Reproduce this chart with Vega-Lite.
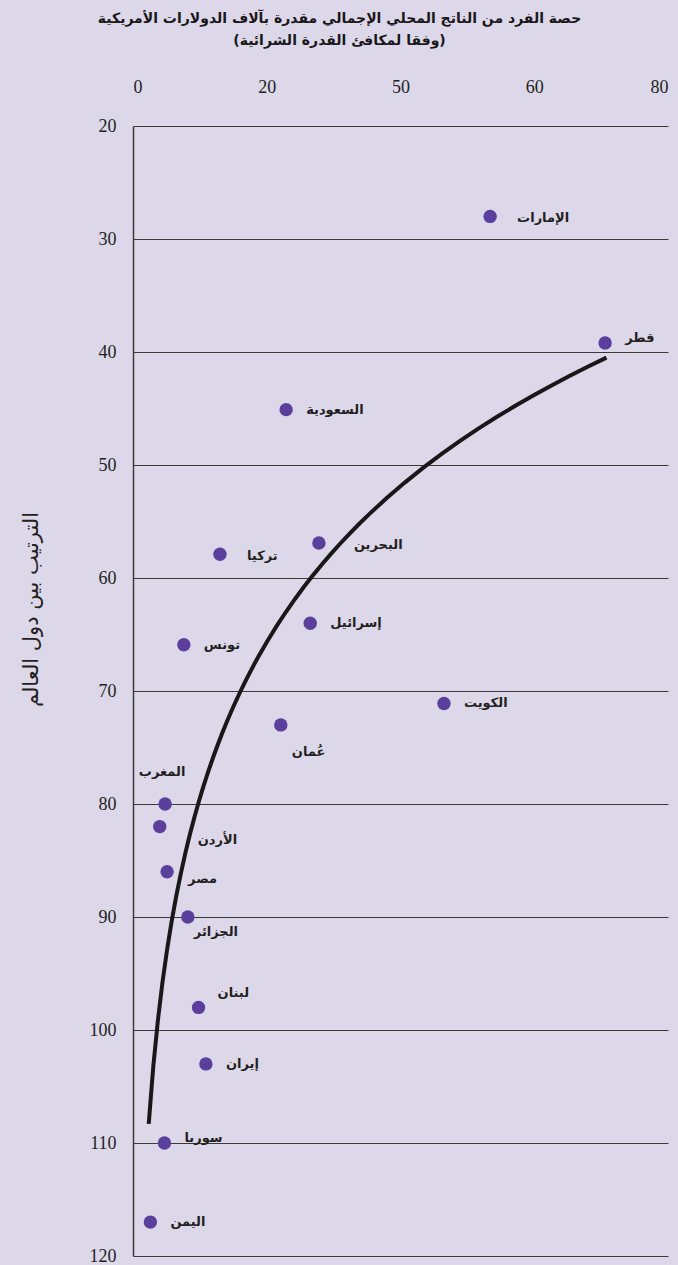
{
  "$schema": "https://vega.github.io/schema/vega-lite/v6.json",
  "width": 535,
  "height": 1130,
  "autosize": "none",
  "padding": {"left": 133, "top": 126, "right": 10, "bottom": 9},
  "background": "#dcd8ea",
  "title": {
    "text": ["حصة الفرد من الناتج المحلي الإجمالي مقدرة بآلاف الدولارات الأمريكية", "(وفقا لمكافئ القدرة الشرائية)"],
    "font": "DejaVu Sans",
    "fontSize": 14,
    "fontWeight": "bold",
    "color": "#1a1718",
    "anchor": "middle",
    "dx": -61,
    "offset": 30,
    "lineHeight": 22
  },
  "config": {
    "view": {"stroke": null}
  },
  "data": {
    "values": [
      {"country": "الإمارات", "gdp": 53.4, "rank": 28},
      {"country": "قطر", "gdp": 70.6, "rank": 39.2},
      {"country": "السعودية", "gdp": 22.9, "rank": 45.1},
      {"country": "البحرين", "gdp": 27.8, "rank": 56.9},
      {"country": "تركيا", "gdp": 13.0, "rank": 57.9},
      {"country": "إسرائيل", "gdp": 26.5, "rank": 64},
      {"country": "تونس", "gdp": 7.6, "rank": 65.9},
      {"country": "الكويت", "gdp": 46.5, "rank": 71.1},
      {"country": "عُمان", "gdp": 22.1, "rank": 73},
      {"country": "المغرب", "gdp": 4.8, "rank": 80},
      {"country": "الأردن", "gdp": 4.0, "rank": 82},
      {"country": "مصر", "gdp": 5.1, "rank": 86},
      {"country": "الجزائر", "gdp": 8.2, "rank": 90},
      {"country": "لبنان", "gdp": 9.8, "rank": 98},
      {"country": "إيران", "gdp": 10.9, "rank": 103},
      {"country": "سوريا", "gdp": 4.7, "rank": 110},
      {"country": "اليمن", "gdp": 2.6, "rank": 117}
    ]
  },
  "encoding": {
    "x": {
      "field": "gdp",
      "type": "quantitative",
      "scale": {"domain": [0, 80], "nice": false, "zero": false},
      "axis": {
        "orient": "top",
        "values": [0, 20, 40, 60, 80],
        "labelExpr": "datum.value == 40 ? '50' : datum.label",
        "domain": false,
        "ticks": false,
        "grid": false,
        "labelFont": "Liberation Serif, DejaVu Serif, serif",
        "labelFontSize": 18,
        "labelColor": "#231f20",
        "labelPadding": 30,
        "title": null
      }
    },
    "y": {
      "field": "rank",
      "type": "quantitative",
      "scale": {"domain": [20, 120], "reverse": true, "nice": false, "zero": false},
      "axis": {
        "orient": "left",
        "values": [20, 30, 40, 50, 60, 70, 80, 90, 100, 110, 120],
        "grid": true,
        "gridColor": "#3a3a3a",
        "gridWidth": 1.2,
        "gridOpacity": 1,
        "domain": true,
        "domainColor": "#3a3a3a",
        "domainWidth": 1.5,
        "ticks": false,
        "labelFont": "Liberation Serif, DejaVu Serif, serif",
        "labelFontSize": 18,
        "labelColor": "#231f20",
        "labelPadding": 17,
        "title": "الترتيب بين دول العالم",
        "titleFont": "DejaVu Sans",
        "titleFontSize": 21,
        "titleFontWeight": "normal",
        "titleColor": "#231f20",
        "titleX": -92,
        "titleY": 483,
        "titleAngle": -90,
        "titleBaseline": "bottom",
        "titleAlign": "center"
      }
    }
  },
  "layer": [
    {
      "transform": [{"regression": "rank", "on": "gdp", "method": "log", "extent": [2.35, 70.8]}],
      "mark": {"type": "line", "color": "#1a1718", "strokeWidth": 4}
    },
    {
      "mark": {"type": "circle", "size": 180, "color": "#5a3f9c", "opacity": 1}
    },
    {
      "transform": [{"filter": {"field": "country", "oneOf": ["السعودية", "إسرائيل", "تونس", "إيران", "اليمن", "الكويت"]}}],
      "mark": {"type": "text", "align": "left", "baseline": "middle", "dx": 20, "font": "DejaVu Sans", "fontSize": 13, "fontWeight": "bold", "color": "#231f20"},
      "encoding": {"text": {"field": "country"}}
    },
    {
      "transform": [{"filter": {"field": "country", "oneOf": ["الإمارات", "تركيا"]}}],
      "mark": {"type": "text", "align": "left", "baseline": "middle", "dx": 27, "dy": 2, "font": "DejaVu Sans", "fontSize": 13, "fontWeight": "bold", "color": "#231f20"},
      "encoding": {"text": {"field": "country"}}
    },
    {
      "transform": [{"filter": {"field": "country", "oneOf": ["قطر", "سوريا"]}}],
      "mark": {"type": "text", "align": "left", "baseline": "middle", "dx": 20, "dy": -5, "font": "DejaVu Sans", "fontSize": 13, "fontWeight": "bold", "color": "#231f20"},
      "encoding": {"text": {"field": "country"}}
    },
    {
      "transform": [{"filter": {"field": "country", "oneOf": ["البحرين"]}}],
      "mark": {"type": "text", "align": "left", "baseline": "middle", "dx": 35, "dy": 2, "font": "DejaVu Sans", "fontSize": 13, "fontWeight": "bold", "color": "#231f20"},
      "encoding": {"text": {"field": "country"}}
    },
    {
      "transform": [{"filter": {"field": "country", "oneOf": ["مصر"]}}],
      "mark": {"type": "text", "align": "left", "baseline": "middle", "dx": 21, "dy": 7, "font": "DejaVu Sans", "fontSize": 13, "fontWeight": "bold", "color": "#231f20"},
      "encoding": {"text": {"field": "country"}}
    },
    {
      "transform": [{"filter": {"field": "country", "oneOf": ["لبنان"]}}],
      "mark": {"type": "text", "align": "left", "baseline": "middle", "dx": 19, "dy": -14, "font": "DejaVu Sans", "fontSize": 13, "fontWeight": "bold", "color": "#231f20"},
      "encoding": {"text": {"field": "country"}}
    },
    {
      "transform": [{"filter": {"field": "country", "oneOf": ["الأردن"]}}],
      "mark": {"type": "text", "align": "left", "baseline": "middle", "dx": 38, "dy": 13, "font": "DejaVu Sans", "fontSize": 13, "fontWeight": "bold", "color": "#231f20"},
      "encoding": {"text": {"field": "country"}}
    },
    {
      "transform": [{"filter": {"field": "country", "oneOf": ["الجزائر"]}}],
      "mark": {"type": "text", "align": "left", "baseline": "middle", "dx": 6, "dy": 15, "font": "DejaVu Sans", "fontSize": 13, "fontWeight": "bold", "color": "#231f20"},
      "encoding": {"text": {"field": "country"}}
    },
    {
      "transform": [{"filter": {"field": "country", "oneOf": ["عُمان"]}}],
      "mark": {"type": "text", "align": "left", "baseline": "middle", "dx": 11, "dy": 27, "font": "DejaVu Sans", "fontSize": 13, "fontWeight": "bold", "color": "#231f20"},
      "encoding": {"text": {"field": "country"}}
    },
    {
      "transform": [{"filter": {"field": "country", "oneOf": ["المغرب"]}}],
      "mark": {"type": "text", "align": "center", "baseline": "middle", "dx": -3, "dy": -32, "font": "DejaVu Sans", "fontSize": 13, "fontWeight": "bold", "color": "#231f20"},
      "encoding": {"text": {"field": "country"}}
    }
  ]
}
